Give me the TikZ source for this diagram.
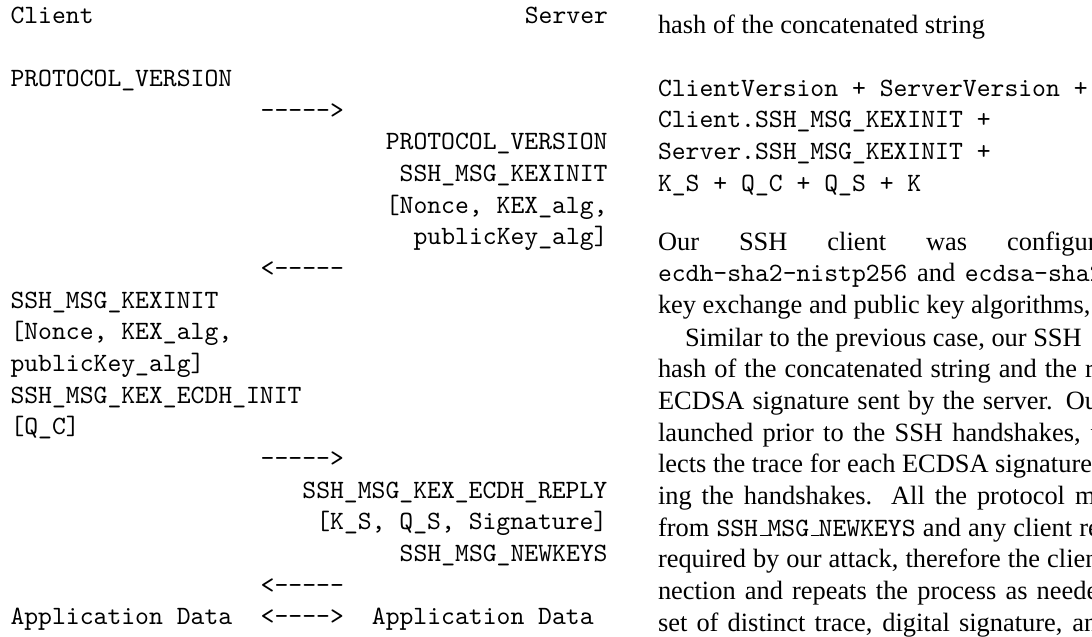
\documentclass[tikz,border=0pt]{standalone}
\usepackage{fontspec}
\setmainfont{Liberation Serif}
\setmonofont{lmmono10-regular.otf}
\newlength\natw
\newcommand\jline[2]{\settowidth{\natw}{#2}\makebox[\dimexpr\natw+#1\relax][s]{#2}}
\newcommand\otus{\leavevmode\kern.06em\vbox{\hrule width.3em}}
\tikzset{
  tt/.style={anchor=base west, inner sep=0pt, outer sep=0pt, font=\fontsize{10pt}{12pt}\selectfont\ttfamily},
  rm/.style={anchor=base west, inner sep=0pt, outer sep=0pt, font=\fontsize{10pt}{12pt}\selectfont\rmfamily}
}
\begin{document}
\begin{tikzpicture}[x=0.3788pt,y=-0.3788pt]
\useasboundingbox (0,0) rectangle (1092,636);
\clip (0,0) rectangle (1092,636);
% ---- left figure (columns: x = 10.5 + 13.9*col) ----
\node[tt] (cli)   at (10.5,23)    {Client};
\node[tt] (srv)   at (524.8,23)   {Server};
\node[tt] (cpv)   at (10.5,86.4)  {PROTOCOL\_VERSION};
\node[tt] (a1)    at (260.7,118.0){----->};
\node[tt] (spv)   at (385.8,149.7){PROTOCOL\_VERSION};
\node[tt] (skx)   at (399.7,181.4){SSH\_MSG\_KEXINIT};
\node[tt] (sn1)   at (385.8,213.1){[Nonce, KEX\_alg,};
\node[tt] (sn2)   at (413.6,244.8){publicKey\_alg]};
\node[tt] (a2)    at (260.7,276.4){<-----};
\node[tt] (ckx)   at (10.5,308.1) {SSH\_MSG\_KEXINIT};
\node[tt] (cn1)   at (10.5,339.8) {[Nonce, KEX\_alg,};
\node[tt] (cn2)   at (10.5,371.5) {publicKey\_alg]};
\node[tt] (cei)   at (10.5,403.2) {SSH\_MSG\_KEX\_ECDH\_INIT};
\node[tt] (cqc)   at (10.5,434.8) {[Q\_C]};
\node[tt] (a3)    at (260.7,466.5){----->};
\node[tt] (ser)   at (302.4,498.2){SSH\_MSG\_KEX\_ECDH\_REPLY};
\node[tt] (ssg)   at (316.3,529.9){[K\_S, Q\_S, Signature]};
\node[tt] (snk)   at (399.7,561.6){SSH\_MSG\_NEWKEYS};
\node[tt] (a4)    at (260.7,593.2){<-----};
\node[tt] (cad)   at (10.5,624.9) {Application Data};
\node[tt] (a5)    at (260.7,624.9){<---->};
\node[tt] (sad)   at (371.9,624.9){Application Data};
% ---- right column text ----
\node[rm] (r1)  at (658,33)    {hash of the concatenated string};
\node[tt] (v1)  at (658,96)    {ClientVersion + ServerVersion +};
\node[tt] (v2)  at (658,127.7) {Client.SSH\_MSG\_KEXINIT +};
\node[tt] (v3)  at (658,159.3) {Server.SSH\_MSG\_KEXINIT +};
\node[tt] (v4)  at (658,191)   {K\_S + Q\_C + Q\_S + K};
\node[rm] (r2)  at (658,250)   {Our\hspace{15.15pt}SSH\hspace{15.15pt}client\hspace{15.15pt}was\hspace{15.15pt}configur};
\node[rm] (r3)  at (658,281.5) {\jline{2.3pt}{\texttt{ecdh-sha2-nistp256} and \texttt{ecdsa-sha2}}};
\node[rm] (r4)  at (658,313)   {key exchange and public key algorithms,};
\node[rm] (r5)  at (685,346)   {Similar to the previous case, our SSH};
\node[rm] (r6)  at (658,377.7) {\jline{3.8pt}{hash of the concatenated string and the r}};
\node[rm] (r7)  at (658,409.3) {\jline{4.5pt}{ECDSA signature sent by the server. Ou}};
\node[rm] (r8)  at (658,441)   {\jline{6.4pt}{launched prior to the SSH handshakes, t}};
\node[rm] (r9)  at (658,472.7) {lects the trace for each ECDSA signature};
\node[rm] (r10) at (658,504.3) {\jline{10.2pt}{ing the handshakes. All the protocol me}};
\node[rm] (r11) at (658,536)   {\jline{1.1pt}{from \texttt{SSH\otus MSG\otus NEWKEYS} and any client re}};
\node[rm] (r12) at (658,567.7) {\jline{1.1pt}{required by our attack, therefore the clien}};
\node[rm] (r13) at (658,599.3) {\jline{5.7pt}{nection and repeats the process as neede}};
\node[rm] (r14) at (658,631)   {\jline{6.4pt}{set of distinct trace, digital signature, an}};
\end{tikzpicture}
\end{document}
